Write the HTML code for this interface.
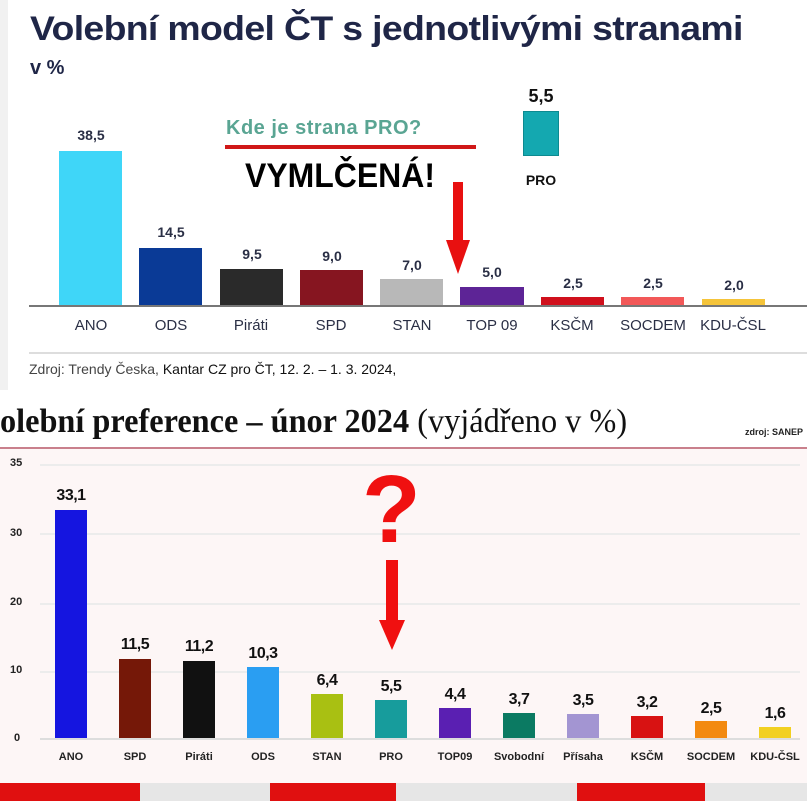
<!DOCTYPE html>
<html><head><meta charset="utf-8"><style>
*{margin:0;padding:0;box-sizing:border-box}
body{width:807px;height:801px;position:relative;overflow:hidden;background:#fff;font-family:"Liberation Sans",sans-serif}
.a{position:absolute}
.v{position:absolute;font-weight:bold;font-size:14px;color:#2a2f45;text-align:center;width:64px}
.l{position:absolute;font-size:15px;color:#2a2f45;text-align:center;width:80px}
.b{position:absolute}
.bv{position:absolute;font-size:16px;font-weight:bold;color:#111;text-align:center;width:64px;letter-spacing:-0.5px}
.bl{position:absolute;font-size:11px;font-weight:bold;color:#222;text-align:center;width:70px;top:751px}
.g{position:absolute;left:40px;width:760px;height:2px;background:#ececec}
.t{position:absolute;left:10px;font-size:11px;font-weight:bold;color:#222}
</style></head><body>
<div class="a" style="left:0;top:0;width:8px;height:390px;background:#f1f1f1"></div>
<div class="a" style="left:30px;top:10px;font-size:34px;font-weight:bold;color:#1f2647;letter-spacing:-0.6px;white-space:nowrap;transform:scaleX(1.1);transform-origin:left">Volební model ČT s jednotlivými stranami</div>
<div class="a" style="left:30px;top:57px;font-size:20px;font-weight:bold;color:#1f2647">v %</div>

<div class="a" style="left:29px;top:305px;width:778px;height:2px;background:#777"></div>
<div class="b" style="left:59px;top:151px;width:63px;height:154px;background:#3fd6f8"></div>
<div class="b" style="left:139px;top:248px;width:63px;height:57px;background:#0a3a96"></div>
<div class="b" style="left:220px;top:269px;width:63px;height:36px;background:#2a2a2a"></div>
<div class="b" style="left:300px;top:270px;width:63px;height:35px;background:#861520"></div>
<div class="b" style="left:380px;top:279px;width:63px;height:26px;background:#b8b8b8"></div>
<div class="b" style="left:460px;top:287px;width:64px;height:18px;background:#5d2496"></div>
<div class="b" style="left:541px;top:297px;width:63px;height:8px;background:#d0101c"></div>
<div class="b" style="left:621px;top:297px;width:63px;height:8px;background:#f25858"></div>
<div class="b" style="left:702px;top:299px;width:63px;height:6px;background:#f5c43a"></div>
<div class="v" style="left:59px;top:127px">38,5</div>
<div class="v" style="left:139px;top:224px">14,5</div>
<div class="v" style="left:220px;top:246px">9,5</div>
<div class="v" style="left:300px;top:248px">9,0</div>
<div class="v" style="left:380px;top:257px">7,0</div>
<div class="v" style="left:460px;top:264px">5,0</div>
<div class="v" style="left:541px;top:275px">2,5</div>
<div class="v" style="left:621px;top:275px">2,5</div>
<div class="v" style="left:702px;top:277px">2,0</div>
<div class="l" style="left:51px;top:317px">ANO</div>
<div class="l" style="left:131px;top:317px">ODS</div>
<div class="l" style="left:211px;top:317px">Piráti</div>
<div class="l" style="left:291px;top:317px">SPD</div>
<div class="l" style="left:372px;top:317px">STAN</div>
<div class="l" style="left:452px;top:317px">TOP 09</div>
<div class="l" style="left:532px;top:317px">KSČM</div>
<div class="l" style="left:613px;top:317px">SOCDEM</div>
<div class="l" style="left:693px;top:317px">KDU-ČSL</div>
<div class="a" style="left:29px;top:352px;width:778px;height:2px;background:#ddd"></div>
<div class="a" style="left:29px;top:361px;font-size:14px;color:#444">Zdroj: Trendy Česka, <span style="color:#111">Kantar CZ pro ČT, 12. 2. – 1. 3. 2024,</span></div>

<div class="a" style="left:515px;top:86px;width:52px;text-align:center;font-size:18px;font-weight:bold;color:#111">5,5</div>
<div class="a" style="left:523px;top:111px;width:36px;height:45px;background:#14a8b0;border:1px solid #0d8a90"></div>
<div class="a" style="left:515px;top:172px;width:52px;text-align:center;font-size:14px;font-weight:bold;color:#111">PRO</div>
<div class="a" style="left:226px;top:117px;font-size:20px;font-weight:bold;color:#5aa593;letter-spacing:0.5px">Kde je strana PRO?</div>
<div class="a" style="left:225px;top:145px;width:251px;height:4px;background:#d01818"></div>
<div class="a" style="left:245px;top:157px;font-size:34px;font-weight:bold;color:#000;transform:scaleX(0.94);transform-origin:left;white-space:nowrap">VYMLČENÁ!</div>
<div class="a" style="left:453px;top:182px;width:10px;height:60px;background:#e81010"></div>
<div class="a" style="left:446px;top:240px;width:0;height:0;border-left:12px solid transparent;border-right:12px solid transparent;border-top:34px solid #e81010"></div>

<div class="a" style="left:0;top:448px;width:807px;height:335px;background:#fdf6f6"></div>
<div class="a" style="left:0;top:403px;font-family:'Liberation Serif',serif;font-size:34px;color:#111;white-space:nowrap;transform:scaleX(0.95);transform-origin:left"><b>olební preference – únor 2024</b> (vyjádřeno v %)</div>
<div class="a" style="left:745px;top:427px;font-size:9px;font-weight:bold;color:#222">zdroj: SANEP</div>
<div class="a" style="left:0;top:447px;width:807px;height:2px;background:#c9808c"></div>
<div class="g" style="top:464px"></div><div class="g" style="top:533px"></div><div class="g" style="top:603px"></div><div class="g" style="top:671px"></div><div class="g" style="top:738px;background:#ddd"></div>
<div class="t" style="top:457px">35</div><div class="t" style="top:527px">30</div><div class="t" style="top:596px">20</div><div class="t" style="top:664px">10</div><div class="t" style="top:732px;left:14px">0</div>

<div class="b" style="left:55px;top:510px;width:32px;height:228px;background:#1515e0"></div>
<div class="b" style="left:119px;top:659px;width:32px;height:79px;background:#751808"></div>
<div class="b" style="left:183px;top:661px;width:32px;height:77px;background:#111"></div>
<div class="b" style="left:247px;top:667px;width:32px;height:71px;background:#2a9ef2"></div>
<div class="b" style="left:311px;top:694px;width:32px;height:44px;background:#a9c012"></div>
<div class="b" style="left:375px;top:700px;width:32px;height:38px;background:#179c9c"></div>
<div class="b" style="left:439px;top:708px;width:32px;height:30px;background:#5a1fb2"></div>
<div class="b" style="left:503px;top:713px;width:32px;height:25px;background:#0b7a62"></div>
<div class="b" style="left:567px;top:714px;width:32px;height:24px;background:#a395d2"></div>
<div class="b" style="left:631px;top:716px;width:32px;height:22px;background:#d81212"></div>
<div class="b" style="left:695px;top:721px;width:32px;height:17px;background:#f38a10"></div>
<div class="b" style="left:759px;top:727px;width:32px;height:11px;background:#f2d020"></div>

<div class="bv" style="left:39px;top:487px">33,1</div>
<div class="bv" style="left:103px;top:636px">11,5</div>
<div class="bv" style="left:167px;top:638px">11,2</div>
<div class="bv" style="left:231px;top:645px">10,3</div>
<div class="bv" style="left:295px;top:672px">6,4</div>
<div class="bv" style="left:359px;top:678px">5,5</div>
<div class="bv" style="left:423px;top:686px">4,4</div>
<div class="bv" style="left:487px;top:691px">3,7</div>
<div class="bv" style="left:551px;top:692px">3,5</div>
<div class="bv" style="left:615px;top:694px">3,2</div>
<div class="bv" style="left:679px;top:700px">2,5</div>
<div class="bv" style="left:743px;top:705px">1,6</div>

<div class="bl" style="left:36px">ANO</div>
<div class="bl" style="left:100px">SPD</div>
<div class="bl" style="left:164px">Piráti</div>
<div class="bl" style="left:228px">ODS</div>
<div class="bl" style="left:292px">STAN</div>
<div class="bl" style="left:356px">PRO</div>
<div class="bl" style="left:420px">TOP09</div>
<div class="bl" style="left:484px">Svobodní</div>
<div class="bl" style="left:548px">Přísaha</div>
<div class="bl" style="left:612px">KSČM</div>
<div class="bl" style="left:676px">SOCDEM</div>
<div class="bl" style="left:740px">KDU-ČSL</div>

<div class="a" style="left:362px;top:462px;font-size:96px;font-weight:bold;color:#f01010;line-height:1">?</div>
<div class="a" style="left:386px;top:560px;width:12px;height:62px;background:#f01010"></div>
<div class="a" style="left:379px;top:620px;width:0;height:0;border-left:13px solid transparent;border-right:13px solid transparent;border-top:30px solid #f01010"></div>

<div class="a" style="left:0;top:783px;width:807px;height:18px;background:#e6e6e6"></div>
<div class="a" style="left:0;top:783px;width:140px;height:18px;background:#e01010"></div>
<div class="a" style="left:270px;top:783px;width:126px;height:18px;background:#e01010"></div>
<div class="a" style="left:577px;top:783px;width:128px;height:18px;background:#e01010"></div>
</body></html>
